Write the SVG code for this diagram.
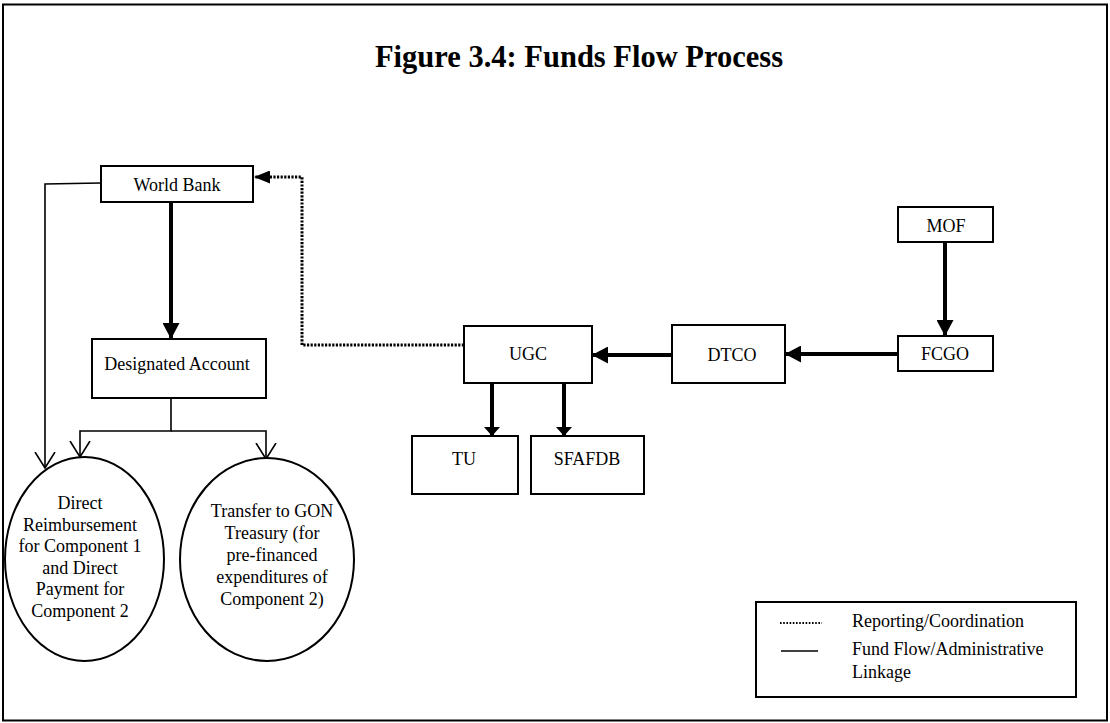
<svg xmlns="http://www.w3.org/2000/svg" width="1110" height="723" viewBox="0 0 1110 723" font-family="'Liberation Serif','Times New Roman',serif">
<defs>
<style>
.box{fill:#fff;stroke:#000;stroke-width:2}
.t{font-family:"Liberation Serif","Times New Roman",serif;font-size:18px;fill:#000;text-anchor:middle}
.tl{font-family:"Liberation Serif","Times New Roman",serif;font-size:18px;fill:#000}
.thick{fill:none;stroke:#000;stroke-width:4}
.thin{fill:none;stroke:#000;stroke-width:1.6}
.dot{fill:none;stroke:#000;stroke-width:3;stroke-dasharray:2.2 1.4}
</style>
<marker id="ah" markerUnits="userSpaceOnUse" markerWidth="16" markerHeight="17" refX="16" refY="8.5" orient="auto" viewBox="0 0 16 17"><path d="M0,0 L16,8.5 L0,17 z" fill="#000"/></marker>
<marker id="ahs" markerUnits="userSpaceOnUse" markerWidth="9" markerHeight="16" refX="9" refY="8" orient="auto" viewBox="0 0 9 16"><path d="M0,0 L9,8 L0,16 z" fill="#000"/></marker>
<marker id="ahd" markerUnits="userSpaceOnUse" markerWidth="16" markerHeight="13" refX="16" refY="6.5" orient="auto" viewBox="0 0 16 13"><path d="M0,0 L16,6.5 L0,13 z" fill="#000"/></marker>
<marker id="ahv" markerUnits="userSpaceOnUse" markerWidth="18" markerHeight="24" refX="16.5" refY="12" orient="auto" viewBox="0 0 18 24"><path d="M0.5,2 L16.5,12 L0.5,22" fill="none" stroke="#000" stroke-width="1.6"/></marker>
</defs>
<rect x="3" y="4.5" width="1104" height="716" fill="#fff" stroke="#000" stroke-width="2"/>
<text x="579" y="67" font-family="'Liberation Serif','Times New Roman',serif" font-size="30.5" font-weight="bold" text-anchor="middle">Figure 3.4: Funds Flow Process</text>
<g id="connectors">
<polyline class="thin" points="101,183 45,184 45,468" marker-end="url(#ahv)"/>
<line class="thick" x1="171" y1="202" x2="171" y2="339" marker-end="url(#ah)"/>
<polyline class="dot" points="464,345 302,345 302,177 254,177" marker-end="url(#ahd)"/>
<polyline class="thin" points="171,398 171,431 80,431 80,457" marker-end="url(#ahv)"/>
<polyline class="thin" points="171,431 266,431 266,459" marker-end="url(#ahv)"/>
<line class="thick" x1="945" y1="242" x2="945" y2="336" marker-end="url(#ah)"/>
<line class="thick" x1="898" y1="354" x2="785" y2="354" marker-end="url(#ah)"/>
<line class="thick" x1="672" y1="355" x2="592" y2="355" marker-end="url(#ah)"/>
<line class="thick" x1="492" y1="383" x2="492" y2="436" marker-end="url(#ahs)"/>
<line class="thick" x1="564" y1="383" x2="564" y2="436" marker-end="url(#ahs)"/>
</g>
<g id="world-bank"><rect class="box" x="101" y="166" width="152" height="36"/><text class="t" x="177" y="191">World Bank</text></g>
<g id="designated-account"><rect class="box" x="92" y="339" width="174" height="59"/><text class="t" x="177" y="370">Designated Account</text></g>
<g id="direct-reimbursement"><ellipse class="box" cx="84.5" cy="559" rx="79.5" ry="102"/>
<text class="t" x="80" y="509">Direct</text>
<text class="t" x="80" y="530.5">Reimbursement</text>
<text class="t" x="80" y="552">for Component 1</text>
<text class="t" x="80" y="573.5">and Direct</text>
<text class="t" x="80" y="595">Payment for</text>
<text class="t" x="80" y="616.5">Component 2</text></g>
<g id="transfer-gon"><ellipse class="box" cx="267" cy="559.5" rx="87" ry="101.5"/>
<text class="t" x="272" y="517">Transfer to GON</text>
<text class="t" x="272" y="539">Treasury (for</text>
<text class="t" x="272" y="561">pre-financed</text>
<text class="t" x="272" y="583">expenditures of</text>
<text class="t" x="272" y="604.5">Component 2)</text></g>
<g id="ugc"><rect class="box" x="464" y="326" width="128" height="57"/><text class="t" x="528" y="360">UGC</text></g>
<g id="dtco"><rect class="box" x="672" y="325" width="113" height="58"/><text class="t" x="732" y="361">DTCO</text></g>
<g id="mof"><rect class="box" x="898" y="207" width="95" height="35"/><text class="t" x="946" y="232">MOF</text></g>
<g id="fcgo"><rect class="box" x="898" y="336" width="95" height="35"/><text class="t" x="945" y="360">FCGO</text></g>
<g id="tu"><rect class="box" x="412" y="436" width="106" height="58"/><text class="t" x="464" y="465">TU</text></g>
<g id="sfafdb"><rect class="box" x="531" y="436" width="113" height="58"/><text class="t" x="587" y="465">SFAFDB</text></g>
<g id="legend">
<rect class="box" x="756" y="602" width="320" height="95"/>
<line class="dot" x1="780" y1="623" x2="822" y2="623" style="stroke-width:2;stroke-dasharray:1.6 1.6"/>
<line class="thin" x1="781" y1="651" x2="818" y2="651"/>
<text class="tl" x="852" y="627">Reporting/Coordination</text>
<text class="tl" x="852" y="655">Fund Flow/Administrative</text>
<text class="tl" x="852" y="678">Linkage</text>
</g>
</svg>
